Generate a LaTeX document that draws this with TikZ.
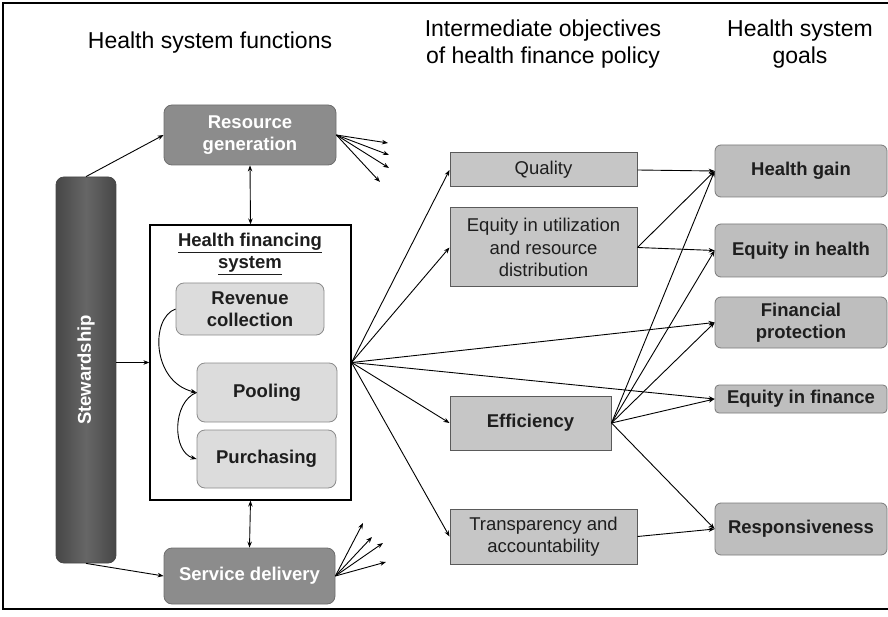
\documentclass[tikz,border=0pt]{standalone}
\usepackage{fontspec}
\setmainfont{Liberation Sans}
\usetikzlibrary{arrows.meta}
\definecolor{darkbox}{HTML}{8C8C8C}
\definecolor{darkboxb}{HTML}{6E6E6E}
\definecolor{stewA}{HTML}{474747}
\definecolor{stewB}{HTML}{666666}
\definecolor{lightbox}{HTML}{DCDCDC}
\definecolor{lightboxb}{HTML}{8C8C8C}
\definecolor{midbox}{HTML}{C6C6C6}
\definecolor{midboxb}{HTML}{5A5A5A}
\definecolor{goalbox}{HTML}{BEBEBE}
\definecolor{goalboxb}{HTML}{7A7A7A}
\definecolor{txt}{HTML}{1E1E1E}
\begin{document}
\begin{tikzpicture}[x=1pt,y=-1pt,
  boxtext/.style={font=\fontsize{18.5}{22.5}\selectfont, align=center, inner sep=0pt},
  funcbox/.style={boxtext, draw=darkboxb, fill=darkbox, rounded corners=8pt, line width=0.8pt, text=white, font=\fontsize{18.5}{22.5}\selectfont\bfseries},
  subbox/.style={boxtext, draw=lightboxb, fill=lightbox, rounded corners=8pt, line width=0.8pt, text=txt, font=\fontsize{18.5}{22.5}\selectfont\bfseries},
  objbox/.style={boxtext, draw=midboxb, fill=midbox, line width=1pt, text=txt},
  goalbox/.style={boxtext, draw=goalboxb, fill=goalbox, rounded corners=6pt, line width=0.8pt, text=txt, font=\fontsize{18.5}{22.5}\selectfont\bfseries},
  title/.style={font=\fontsize{23}{27}\selectfont, align=center, inner sep=0pt},
  arr/.style={line width=0.9pt, -{Stealth[length=6pt,width=4.5pt]}},
  darr/.style={line width=0.9pt, {Stealth[length=6pt,width=4.5pt]}-{Stealth[length=6pt,width=4.5pt]}},
  frame/.style={line width=2pt}
]
\useasboundingbox (0,0) rectangle (888,617);
% frame
\draw[frame] (890,3) -- (3,3) -- (3,609) -- (890,609);

% titles
\node[title] (t1) at (210,43) {Health system functions};
\node[title] (t2) at (543,44) {Intermediate objectives\\of health finance policy};
\node[title] (t3) at (800,44) {Health system\\goals};

% left column
\node[funcbox, minimum width=172pt, minimum height=60pt] (resgen) at (250,135) {Resource\\generation};
\node[draw=stewA, rounded corners=8pt, line width=0.8pt, left color=stewA, right color=stewA, middle color=stewB, minimum width=60pt, minimum height=386pt, inner sep=0pt] (stew) at (86,370) {};
\node[rotate=90, text=white, font=\fontsize{18.5}{22.5}\selectfont\bfseries, inner sep=0pt] (stewtxt) at (stew.center) {Stewardship};
\node[draw=black, fill=white, line width=1.2pt, minimum width=201pt, minimum height=275pt, inner sep=0pt] (hfs) at (250.5,362.5) {};
\node[boxtext, font=\fontsize{18.5}{22}\selectfont\bfseries, text=txt] (hfstitle) at (250,254) {\underline{Health financing}\\\underline{system}};
\node[subbox, minimum width=148pt, minimum height=52pt] (rev) at (250,309) {Revenue\\collection};
\node[subbox, minimum width=140pt, minimum height=59pt] (pool) at (267,392.5) {Pooling};
\node[subbox, minimum width=139pt, minimum height=58pt] (purch) at (266.5,459) {Purchasing};
\node[funcbox, minimum width=171pt, minimum height=56pt] (serv) at (249.5,576) {Service delivery};

% middle column
\node[objbox, minimum width=187pt, minimum height=34pt] (qual) at (543.5,170) {Quality};
\node[objbox, minimum width=187pt, minimum height=79pt] (equtil) at (543.5,247.5) {Equity in utilization\\and resource\\distribution};
\node[objbox, minimum width=161pt, minimum height=54pt, font=\fontsize{18.5}{22.5}\selectfont\bfseries] (eff) at (530.5,423) {Efficiency};
\node[objbox, minimum width=187pt, minimum height=55pt] (transp) at (543.5,536.5) {Transparency and\\accountability};

% right column
\node[goalbox, minimum width=172pt, minimum height=52pt] (hgain) at (801,171) {Health gain};
\node[goalbox, minimum width=172pt, minimum height=53pt] (eqh) at (801,250.5) {Equity in health};
\node[goalbox, minimum width=172pt, minimum height=51pt] (finp) at (801,322.5) {Financial\\protection};
\node[goalbox, rounded corners=4pt, minimum width=172pt, minimum height=28pt] (eqfin) at (801,399) {Equity in finance};
\node[goalbox, minimum width=172pt, minimum height=52pt] (resp) at (801,529) {Responsiveness};

% left connectors
\draw[arr] (stew.north) -- (resgen.west);
\draw[arr] (stew.south) -- (serv.west);
\draw[arr] (stew.east |- hfs.west) -- (hfs.west);
\draw[darr] (resgen.south) -- (hfs.north);
\draw[darr] (hfs.south) -- (serv.north);
\draw[arr] (rev.west) .. controls (150,318) and (152,382) .. (pool.west);
\draw[arr] (pool.west) .. controls (172,402) and (172,452) .. (purch.west);

% fans
\coordinate (rg1) at (388,143);
\coordinate (rg2) at (389,155);
\coordinate (rg3) at (389,168);
\coordinate (rg4) at (380,182);
\foreach \c in {rg1,rg2,rg3,rg4} \draw[arr] (resgen.east) -- (\c);
\coordinate (sd1) at (363,523);
\coordinate (sd2) at (372,537);
\coordinate (sd3) at (383,543);
\coordinate (sd4) at (386,562);
\foreach \c in {sd1,sd2,sd3,sd4} \draw[arr] (serv.east) -- (\c);

% hub
\coordinate (hub) at (hfs.east);
\foreach \t in {qual,equtil,eff,transp,finp,eqfin} \draw[arr] (hub) -- (\t.west);

% middle to right
\draw[arr] (qual.east) -- (hgain.west);
\draw[arr] (equtil.east) -- (hgain.west);
\draw[arr] (equtil.east) -- (eqh.west);
\foreach \t in {hgain,eqh,finp,eqfin,resp} \draw[arr] (eff.east) -- (\t.west);
\draw[arr] (transp.east) -- (resp.west);
\end{tikzpicture}
\end{document}
